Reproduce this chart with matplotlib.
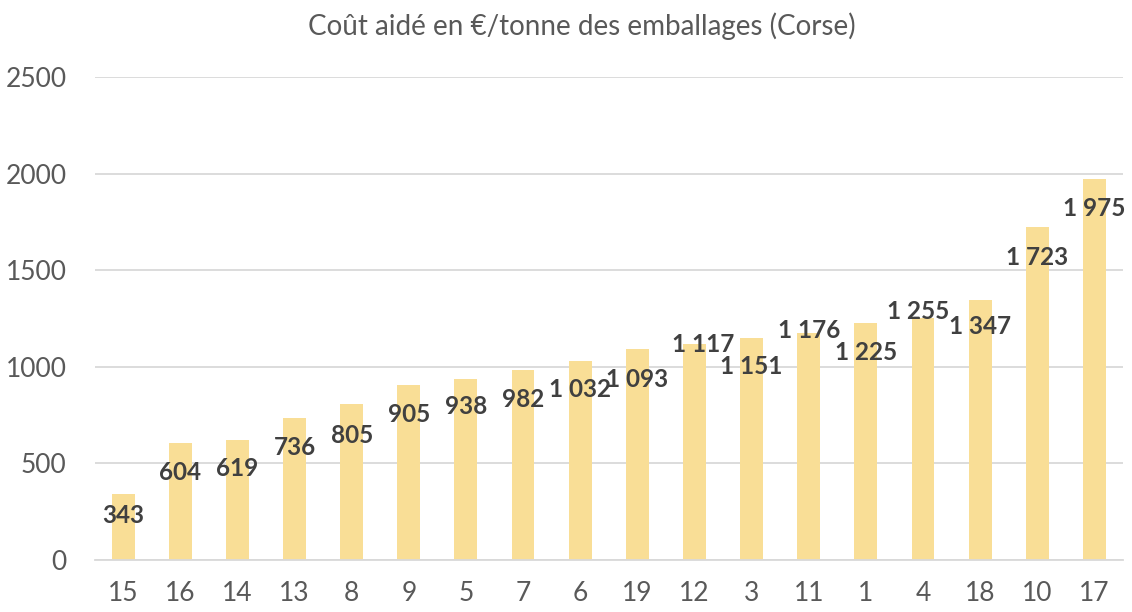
import numpy as np
import matplotlib.pyplot as plt

# === Données ===
categories = ['15', '16', '14', '13', '8', '9', '5', '7', '6', '19', '12', '3', '11', '1', '4', '18', '10', '17']
cout = [343, 604, 619, 736, 805, 905, 938, 982, 1032, 1093, 1117, 1151, 1176, 1225, 1255, 1347, 1723, 1975]

# décalage des étiquettes (pixels, x / y vers le bas) comme dans le graphique Excel
label_dx = [0, 0, 0, 0, 0, 0, 0, 0, 0, 0, 9, 0, 0, 0, -5, 0, 0, 0]
label_dy = [22, 29, 28, 30, 31, 29, 28, 29, 29, 31, 0, 29, -2, 29, -6, 27, 30, 30]

bar_color = '#F9DE96'
txt_gray = '#595959'
lab_gray = '#404040'
plt.rcParams['font.family'] = ['Lato', 'DejaVu Sans']

fig = plt.figure(figsize=(11.32, 6.12), dpi=100)
ax = fig.add_axes([0.0835, 0.085, 0.9085, 0.789])

x = np.arange(len(categories))
ax.bar(x, cout, width=0.4, color=bar_color, zorder=2)

for xi, v, dx, dy in zip(x, cout, label_dx, label_dy):
    txt = f"{v:,}".replace(',', ' ')
    ax.annotate(txt, (xi, v), xytext=(dx, -dy), textcoords='offset pixels',
                ha='center', va='center', fontsize=17.5, fontweight='bold',
                color=lab_gray, zorder=3)

ax.set_xlim(-0.5, len(categories) - 0.5)
ax.set_ylim(0, 2500)
ax.set_yticks(np.arange(0, 2501, 500))
ax.set_xticks(x)
ax.set_xticklabels(categories)
ax.yaxis.grid(True, color='#D9D9D9', linewidth=1.3, zorder=0)
ax.set_axisbelow(True)
for s in ['top', 'right', 'left']:
    ax.spines[s].set_visible(False)
ax.spines['bottom'].set_color('#D9D9D9')
ax.spines['bottom'].set_linewidth(1.3)
ax.tick_params(axis='both', length=0, labelsize=19, colors=txt_gray)
ax.tick_params(axis='x', pad=15)
ax.tick_params(axis='y', pad=20)

fig.text(0.514, 0.958, "Coût aidé en €/tonne des emballages (Corse)", ha='center', va='center',
         fontsize=20, color=txt_gray)

fig.savefig('out.png', dpi=100)
